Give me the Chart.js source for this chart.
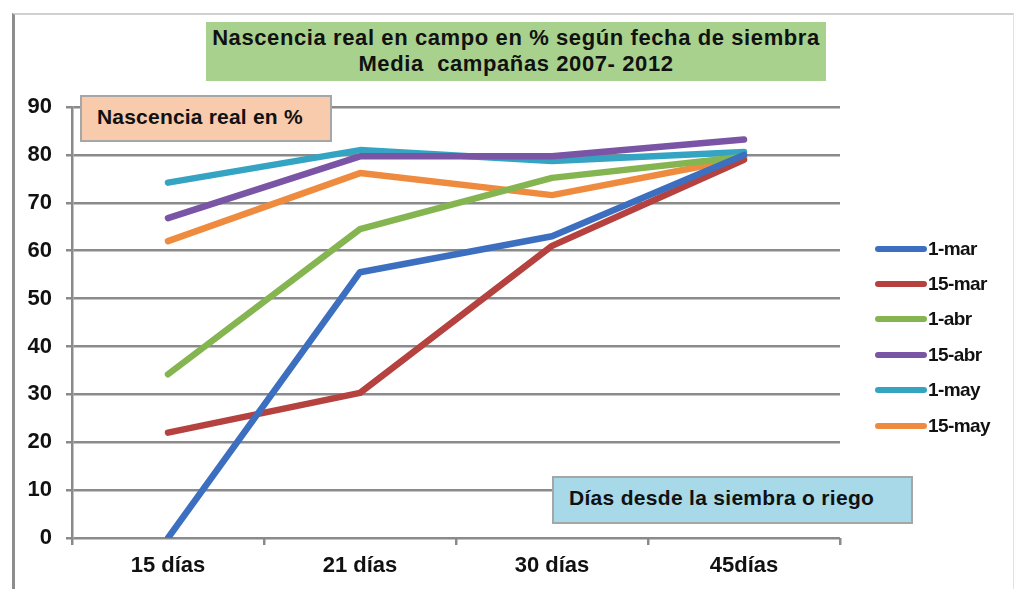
<!DOCTYPE html>
<html>
<head>
<meta charset="utf-8">
<script src="https://cdn.jsdelivr.net/npm/chart.js@4/dist/chart.umd.min.js"></script>
<style>
  body { margin: 0; background: #fff; font-family: "Liberation Sans", Arial, sans-serif; }
  #wrap { position: relative; width: 1016px; height: 589px; overflow: hidden; }
  #frame { position: absolute; left: 12px; top: 13px; width: 998px; height: 600px;
    border-left: 3px solid #8d8d8d; border-top: 2px solid #d0d0d0; border-right: 1px solid #e2e2e2; }
  canvas { position: absolute; left: 0; top: 0; }
  .box { position: absolute; font-weight: bold; color: #111; box-sizing: border-box; white-space: nowrap; }
  #title { left: 206px; top: 22px; width: 620px; height: 59px; background: #a9d18e;
    text-align: center; font-size: 22px; line-height: 26px; padding-top: 3px; letter-spacing: 0.6px; }
  #ylab { left: 80px; top: 95px; width: 252px; height: 47px; background: #f8cbad;
    border: 2px solid #a6a6a6; font-size: 21px; line-height: 40px; padding-left: 15px; letter-spacing: 0.2px; }
  #xlab { left: 552px; top: 476px; width: 361px; height: 48px; background: #a7d9e8;
    border: 2px solid #a6a6a6; font-size: 21px; line-height: 40px; padding-left: 15px; letter-spacing: 0.3px; }
  #legend { position: absolute; left: 875px; top: 231px; }
  .row { height: 35.4px; display: flex; align-items: center; font-weight: bold; font-size: 19px; color: #111; letter-spacing: -0.6px; }
  .sw { width: 52px; height: 6px; border-radius: 3px; margin-right: 1px; }
</style>
</head>
<body>
<div id="wrap">
  <div id="frame"></div>
  <canvas id="c" width="1016" height="589"></canvas>
  <div class="box" id="title">Nascencia real en campo en % según fecha de siembra<br>Media&nbsp; campañas 2007- 2012</div>
  <div class="box" id="ylab">Nascencia real en %</div>
  <div class="box" id="xlab">Días desde la siembra o riego</div>
  <div id="legend"></div>
</div>
<script>
// Data
const categories = ["15 días", "21 días", "30 días", "45días"];
const seriesNames = ["1-mar", "15-mar", "1-abr", "15-abr", "1-may", "15-may"];
const mar1 = [0, 55.5, 63, 80];
const mar15 = [22, 30.3, 61, 79];
const abr1 = [34.2, 64.5, 75.2, 79.6];
const abr15 = [66.8, 79.7, 79.7, 83.2];
const may1 = [74.2, 81, 78.7, 80.6];
const may15 = [62, 76.2, 71.6, 79.3];
const colors = ["#3d6fc0", "#b5423f", "#85b550", "#7a55a5", "#35a4c3", "#ef8b3f"];

const values = [mar1, mar15, abr1, abr15, may1, may15];

const datasets = seriesNames.map((name, i) => ({
  label: name,
  data: values[i],
  borderColor: colors[i],
  backgroundColor: colors[i],
  borderWidth: 6.5,
  borderCapStyle: "round",
  borderJoinStyle: "round",
  pointRadius: 0,
  tension: 0,
}));

// HTML legend
const legend = document.getElementById("legend");
seriesNames.forEach((name, i) => {
  const row = document.createElement("div");
  row.className = "row";
  row.innerHTML = `<span class="sw" style="background:${colors[i]}"></span>${name}`;
  legend.appendChild(row);
});

const tickFont = { family: "'Liberation Sans', Arial, sans-serif", weight: "bold", size: 22 };

new Chart(document.getElementById("c"), {
  type: "line",
  data: { labels: categories, datasets },
  options: {
    responsive: false,
    animation: false,
    layout: { padding: { left: 0, top: 107, right: 176, bottom: 0 } },
    plugins: { legend: { display: false }, title: { display: false }, tooltip: { enabled: false } },
    scales: {
      x: {
        offset: true,
        grid: { offset: true, drawOnChartArea: false, drawTicks: true, tickLength: 7, color: "#8a8a8a", lineWidth: 2.5 },
        border: { display: false },
        ticks: { font: tickFont, color: "#111", padding: 8 },
        afterFit: (s) => { s.height = 51; },
      },
      y: {
        min: 0,
        max: 90,
        ticks: { stepSize: 10, font: { ...tickFont, size: 22 }, color: "#111", padding: 14 },
        grid: { color: "#8a8a8a", lineWidth: 2.5, tickLength: 6 },
        border: { display: true, color: "#8a8a8a", width: 2.5 },
        afterFit: (s) => { s.width = 72; },
      },
    },
  },
});
</script>
</body>
</html>
